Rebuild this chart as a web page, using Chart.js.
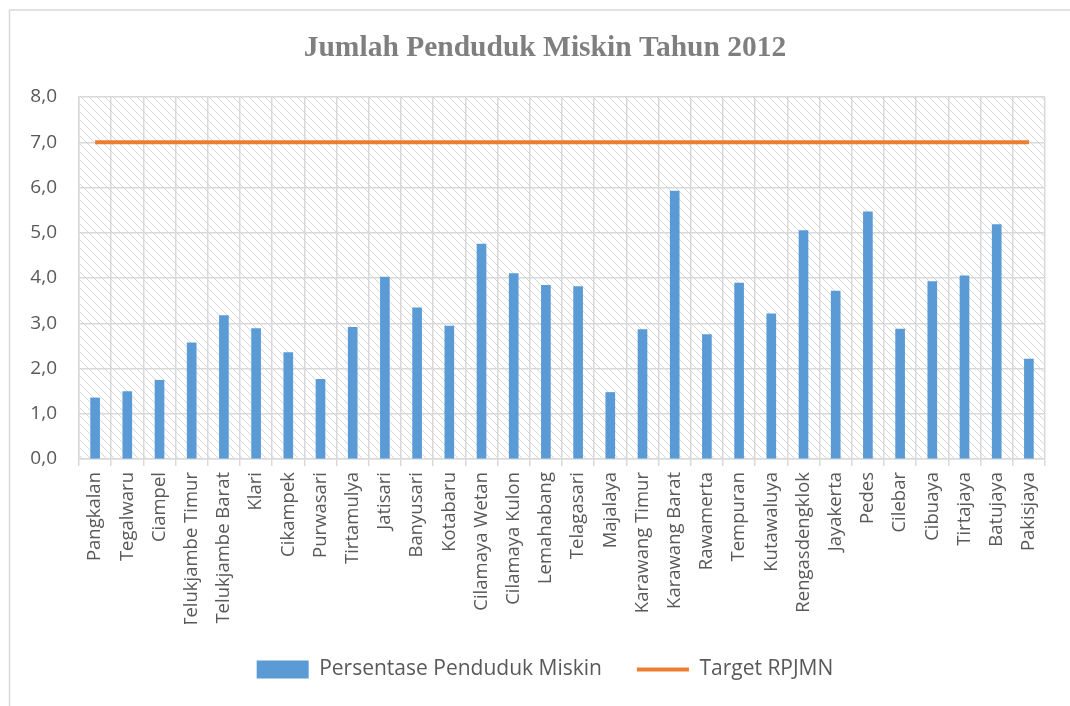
<!DOCTYPE html>
<html>
<head>
<meta charset="utf-8">
<script src="https://cdn.jsdelivr.net/npm/chart.js@4/dist/chart.umd.min.js"></script>
<style>
  html, body { margin: 0; padding: 0; background: #ffffff; }
  #wrap { width: 1070px; height: 706px; position: relative; }
</style>
</head>
<body>
<div id="wrap"><canvas id="c" width="1070" height="706"></canvas></div>
<script>
const categories = ["Pangkalan","Tegalwaru","Ciampel","Telukjambe Timur","Telukjambe Barat","Klari","Cikampek","Purwasari","Tirtamulya","Jatisari","Banyusari","Kotabaru","Cilamaya Wetan","Cilamaya Kulon","Lemahabang","Telagasari","Majalaya","Karawang Timur","Karawang Barat","Rawamerta","Tempuran","Kutawaluya","Rengasdengklok","Jayakerta","Pedes","Cilebar","Cibuaya","Tirtajaya","Batujaya","Pakisjaya"];
const persentaseMiskin = [1.35,1.49,1.74,2.57,3.17,2.88,2.35,1.76,2.91,4.02,3.34,2.94,4.75,4.10,3.84,3.81,1.47,2.86,5.92,2.75,3.89,3.21,5.05,3.71,5.46,2.87,3.92,4.05,5.18,2.21];
const targetRPJMN = [7,7,7,7,7,7,7,7,7,7,7,7,7,7,7,7,7,7,7,7,7,7,7,7,7,7,7,7,7,7];
const yTickLabels = ["0,0","1,0","2,0","3,0","4,0","5,0","6,0","7,0","8,0"];

function makeHatch() {
  const p = document.createElement('canvas');
  p.width = 8; p.height = 8;
  const g = p.getContext('2d');
  g.strokeStyle = 'rgba(205,205,205,0.8)';
  g.lineWidth = 1;
  g.beginPath();
  g.moveTo(-1, -1); g.lineTo(9, 9);
  g.moveTo(-1, 7); g.lineTo(1, 9);
  g.moveTo(7, -1); g.lineTo(9, 1);
  g.stroke();
  return p;
}

const bgPlugin = {
  id: 'bgPlugin',
  beforeDraw(chart) {
    const ctx = chart.ctx, a = chart.chartArea;
    ctx.save();
    ctx.fillStyle = '#ffffff';
    ctx.fillRect(0, 0, chart.width, chart.height);
    ctx.strokeStyle = '#d9d9d9';
    ctx.lineWidth = 1.5;
    ctx.strokeRect(9.5, 10, chart.width + 20, chart.height + 20);
    ctx.fillStyle = ctx.createPattern(makeHatch(), 'repeat');
    ctx.fillRect(a.left, a.top, a.right - a.left, a.bottom - a.top);
    ctx.restore();
  }
};

const axisFont = { family: "'Open Sans', 'Noto Sans', sans-serif", size: 18.5 };

new Chart(document.getElementById('c'), {
  type: 'bar',
  data: {
    labels: categories,
    datasets: [
      {
        type: 'bar',
        label: 'Persentase Penduduk Miskin',
        data: persentaseMiskin,
        backgroundColor: '#5B9BD5',
        borderWidth: 0,
        barThickness: 9,
        order: 1,
        pointStyle: 'rect'
      },
      {
        type: 'line',
        label: 'Target RPJMN',
        data: targetRPJMN,
        borderColor: '#ED7D31',
        backgroundColor: '#ED7D31',
        borderWidth: 4,
        pointRadius: 0,
        pointHoverRadius: 0,
        tension: 0,
        fill: false,
        order: 0,
        pointStyle: 'line'
      }
    ]
  },
  options: {
    responsive: false,
    animation: false,
    devicePixelRatio: 1,
    layout: { padding: { left: 26, right: 6, top: 0, bottom: 16 } },
    plugins: {
      title: {
        display: true,
        text: 'Jumlah Penduduk Miskin Tahun 2012',
        color: '#7f7f7f',
        font: { family: "'Liberation Serif', 'Times New Roman', serif", size: 29.5, weight: 'bold' },
        padding: { top: 31, bottom: 30.6 }
      },
      legend: {
        position: 'bottom',
        labels: {
          usePointStyle: true,
          pointStyleWidth: 52,
          boxHeight: 18,
          padding: 35,
          color: '#595959',
          font: { family: "'Open Sans', 'Noto Sans', sans-serif", size: 21 },
          sort: (a, b) => a.datasetIndex - b.datasetIndex
        }
      },
      tooltip: { enabled: false }
    },
    scales: {
      x: {
        offset: true,
        grid: { color: '#d9d9d9', lineWidth: 1.5, offset: true, drawTicks: true, tickLength: 7 },
        border: { color: '#d9d9d9', width: 1.5 },
        ticks: {
          color: '#595959',
          font: axisFont,
          maxRotation: 90,
          minRotation: 90,
          autoSkip: false,
          padding: 6
        },
        afterFit(scale) { scale.height = 165; }
      },
      y: {
        min: 0,
        max: 8,
        grid: { color: '#d9d9d9', lineWidth: 1.5, drawTicks: false },
        border: { color: '#d9d9d9', width: 1.5 },
        ticks: {
          stepSize: 1,
          color: '#595959',
          font: { family: "'Open Sans', 'Noto Sans', sans-serif", size: 19 },
          padding: 22,
          callback: (v, i) => yTickLabels[i]
        },
        afterFit(scale) { scale.width = 53; }
      },
      ySpacer: {
        position: 'right',
        min: 0,
        max: 8,
        grid: { display: false, drawTicks: false },
        border: { display: false },
        ticks: { display: false },
        afterFit(scale) { scale.width = 19; }
      }
    }
  },
  plugins: [bgPlugin]
});
</script>
</body>
</html>
